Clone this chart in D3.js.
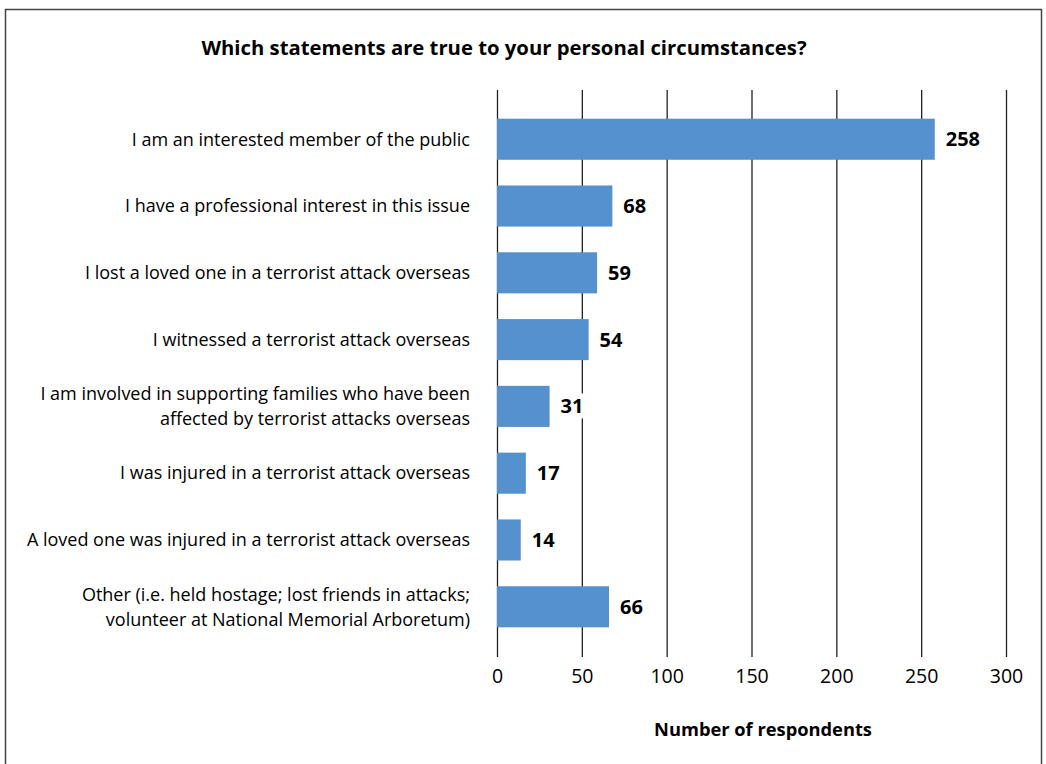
<!DOCTYPE html>
<html><head><meta charset="utf-8">
<script src="https://cdn.jsdelivr.net/npm/d3@7"></script>
<style>body{margin:0;background:#fff}svg{display:block}text{font-family:"Open Sans",sans-serif;fill:#000}</style>
</head><body><svg id="c" width="1046" height="764"></svg>
<script>
const categories = [
  ["I am an interested member of the public"],
  ["I have a professional interest in this issue"],
  ["I lost a loved one in a terrorist attack overseas"],
  ["I witnessed a terrorist attack overseas"],
  ["I am involved in supporting families who have been","affected by terrorist attacks overseas"],
  ["I was injured in a terrorist attack overseas"],
  ["A loved one was injured in a terrorist attack overseas"],
  ["Other (i.e. held hostage; lost friends in attacks;","volunteer at National Memorial Arboretum)"]
];
const values = [258, 68, 59, 54, 31, 17, 14, 66];
const ticks = [0, 50, 100, 150, 200, 250, 300];

const svg = d3.select("#c");
svg.append("rect").attr("x",5.5).attr("y",9.5).attr("width",1036).attr("height",800)
  .attr("fill","none").attr("stroke","#444").attr("stroke-width",1.5);

svg.append("text").attr("x",504).attr("y",55).attr("text-anchor","middle")
  .style("font-weight","bold").style("font-size","20.3px")
  .text("Which statements are true to your personal circumstances?");

const x = d3.scaleLinear().domain([0,300]).range([497,1006]);
const y = d3.scaleBand().domain(d3.range(categories.length)).range([106,640]).paddingInner(0.385).paddingOuter(0.19);

const gTop = 90, gBot = 657;
const grid = svg.append("g").attr("transform",`translate(0,${gBot})`)
  .call(d3.axisBottom(x).tickValues(ticks).tickSize(-(gBot-gTop)).tickSizeOuter(0).tickPadding(12));
grid.select(".domain").remove();
grid.selectAll(".tick line").attr("stroke","#222").attr("stroke-width",1.3);
grid.selectAll(".tick text").style("font-size","19.5px").style("font-family","'Open Sans',sans-serif").attr("fill","#000");

svg.append("g").selectAll("rect").data(values).join("rect")
  .attr("x",x(0)).attr("y",(d,i)=>y(i)).attr("width",d=>x(d)-x(0)).attr("height",y.bandwidth())
  .attr("fill","#5591ce");

const vg = svg.append("g");
values.forEach((d,i)=>{
  const g = vg.append("g");
  const bg = g.append("rect").attr("fill","#fff");
  const t = g.append("text").attr("x",x(d)+11).attr("y",y(i)+y.bandwidth()/2).attr("dy","0.35em")
    .style("font-weight","bold").style("font-size","20px").text(d);
  const b = t.node().getBBox();
  bg.attr("x",b.x-1).attr("y",b.y+1).attr("width",b.width+1).attr("height",b.height-2);
});

const lab = svg.append("g");
categories.forEach((lines,i)=>{
  const cy = y(i)+y.bandwidth()/2;
  const lh = 25;
  lines.forEach((ln,j)=>{
    lab.append("text").attr("x",470).attr("y",cy + (j-(lines.length-1)/2)*lh).attr("dy","0.35em")
      .attr("text-anchor","end").style("font-size","18px").text(ln);
  });
});

svg.append("text").attr("x",763).attr("y",736).attr("text-anchor","middle")
  .style("font-weight","bold").style("font-size","18.3px").text("Number of respondents");
</script></body></html>
